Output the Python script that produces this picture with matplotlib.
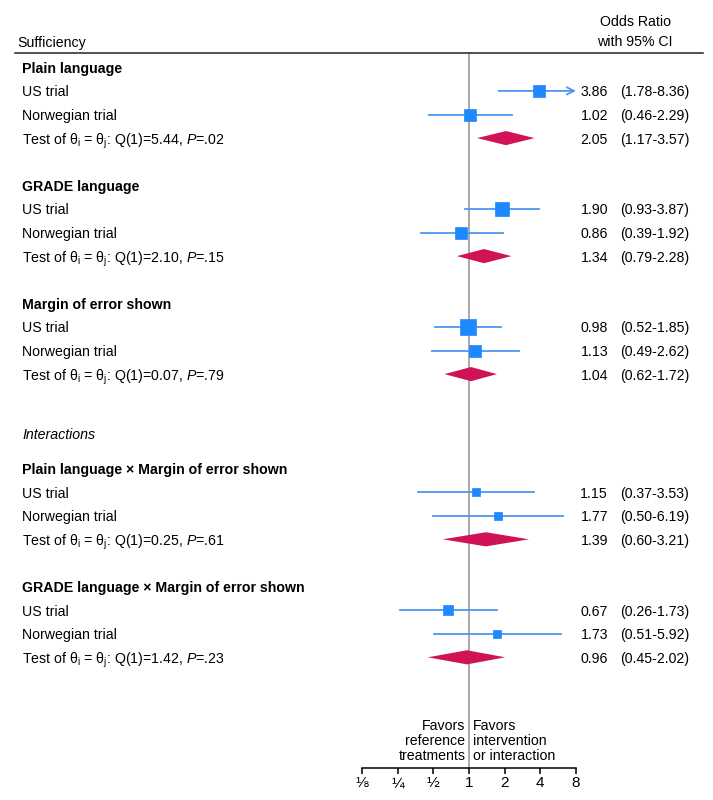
import numpy as np
import matplotlib.pyplot as plt
from matplotlib.lines import Line2D
from matplotlib.transforms import blended_transform_factory

plt.rcParams['font.family'] = ['Liberation Sans', 'DejaVu Sans']
plt.rcParams['mathtext.fontset'] = 'custom'
plt.rcParams['mathtext.rm'] = 'Liberation Sans'
plt.rcParams['mathtext.it'] = 'Liberation Sans:italic'
plt.rcParams['mathtext.bf'] = 'Liberation Sans:bold'
plt.rcParams['font.size'] = 10.2

# data
groups = ["Plain language", "GRADE language", "Margin of error shown",
          "Plain language \u00d7 Margin of error shown",
          "GRADE language \u00d7 Margin of error shown"]
trials = ["US trial", "Norwegian trial"]

us_or = [3.86, 1.90, 0.98, 1.15, 0.67]
us_lo = [1.78, 0.93, 0.52, 0.37, 0.26]
us_hi = [8.36, 3.87, 1.85, 3.53, 1.73]

nor_or = [1.02, 0.86, 1.13, 1.77, 1.73]
nor_lo = [0.46, 0.39, 0.49, 0.50, 0.51]
nor_hi = [2.29, 1.92, 2.62, 6.19, 5.92]

pool_or = [2.05, 1.34, 1.04, 1.39, 0.96]
pool_lo = [1.17, 0.79, 0.62, 0.60, 0.45]
pool_hi = [3.57, 2.28, 1.72, 3.21, 2.02]

q_stat = [5.44, 2.10, 0.07, 0.25, 1.42]
p_val = [".02", ".15", ".79", ".61", ".23"]

tick_vals = [1/8, 1/4, 1/2, 1, 2, 4, 8]
tick_labels = ["\u215b", "\u00bc", "\u00bd", "1", "2", "4", "8"]

# layout
W, H = 713, 800
group_rows = [0, 5, 10, 17, 22]
interactions_row = 15.5
blue = '#1e88ff'
blue_line = '#4a98f2'
red = '#d01357'
xmin, xmax = 1/8, 8

fig = plt.figure(figsize=(W / 100, H / 100), dpi=100)
# axes spans from header rule (53 px) down to the x axis (768 px)
ax = fig.add_axes([362 / W, 32 / H, 214 / W, 715 / H])
ax.set_xscale('log', base=2)
ax.set_xlim(xmin, xmax)
ax.set_ylim(29.69, -0.606)

lab = blended_transform_factory(fig.transFigure, ax.transData)
VA = 'center_baseline'


def fx(px):
    return px / W


def cols(row, est, lo, hi):
    ax.text(fx(608), row, f"{est:.2f}", transform=lab, ha='right', va=VA)
    ax.text(fx(620), row, f"({lo:.2f}-{hi:.2f})", transform=lab,
            ha='left', va=VA)


def study(row, est, lo, hi):
    se = (np.log(hi) - np.log(lo)) / 3.92
    box_px = 4.9 / se
    if hi > xmax:
        ax.annotate('', xy=(xmax, row), xytext=(lo, row),
                    arrowprops=dict(arrowstyle='->', color=blue_line, lw=1.3,
                                    shrinkA=0, shrinkB=0, mutation_scale=13),
                    annotation_clip=False)
    else:
        ax.plot([lo, hi], [row, row], color=blue_line, lw=1.3, clip_on=False)
    ax.plot(est, row, marker='s', ms=box_px * 0.72, color=blue, mec=blue,
            mew=0.5, clip_on=False, zorder=3)
    cols(row, est, lo, hi)


for g, r0 in enumerate(group_rows):
    ax.text(fx(22), r0, groups[g], transform=lab, fontweight='bold',
            va=VA, ha='left')
    ax.text(fx(22), r0 + 1, trials[0], transform=lab, va=VA)
    ax.text(fx(22), r0 + 2, trials[1], transform=lab, va=VA)
    ax.text(fx(22), r0 + 3,
            "Test of \u03b8$_\\mathrm{i}$ = \u03b8$_\\mathrm{j}$: "
            f"Q(1)={q_stat[g]:.2f}, $\\mathit{{P}}$={p_val[g]}",
            transform=lab, va=VA)
    study(r0 + 1, us_or[g], us_lo[g], us_hi[g])
    study(r0 + 2, nor_or[g], nor_lo[g], nor_hi[g])
    r = r0 + 3
    h = 0.3
    ax.fill([pool_lo[g], pool_or[g], pool_hi[g], pool_or[g]],
            [r, r - h, r, r + h], color=red, lw=0, zorder=3)
    cols(r, pool_or[g], pool_lo[g], pool_hi[g])

ax.text(fx(22), interactions_row, "Interactions", transform=lab,
        style='italic', va=VA)

# reference line
ax.axvline(1, color='#9a9a9a', lw=1.2, zorder=1)

# favors text
ax.text(0.93, 28.55, "Favors\nreference\ntreatments", ha='right', va='center',
        linespacing=1.1)
ax.text(1.08, 28.55, "Favors\nintervention\nor interaction", ha='left',
        va='center', linespacing=1.1)

# axis
for s in ['top', 'left', 'right']:
    ax.spines[s].set_visible(False)
ax.spines['bottom'].set_linewidth(1.1)
ax.set_yticks([])
ax.set_xticks(tick_vals)
ax.set_xticklabels(tick_labels)
ax.minorticks_off()
ax.tick_params(axis='x', direction='out', length=4, width=1.1, pad=2,
               labelsize=11)

# header
fig.text(fx(17), 1 - 41 / H, "Sufficiency", ha='left', va=VA)
fig.text(fx(635), 1 - 20 / H, "Odds Ratio", ha='center', va=VA)
fig.text(fx(635), 1 - 41 / H, "with 95% CI", ha='center', va=VA)
fig.add_artist(Line2D([15 / W, 703 / W], [1 - 53 / H, 1 - 53 / H],
                      color='#222222', lw=1.1))

fig.savefig('out.png', dpi=100)
